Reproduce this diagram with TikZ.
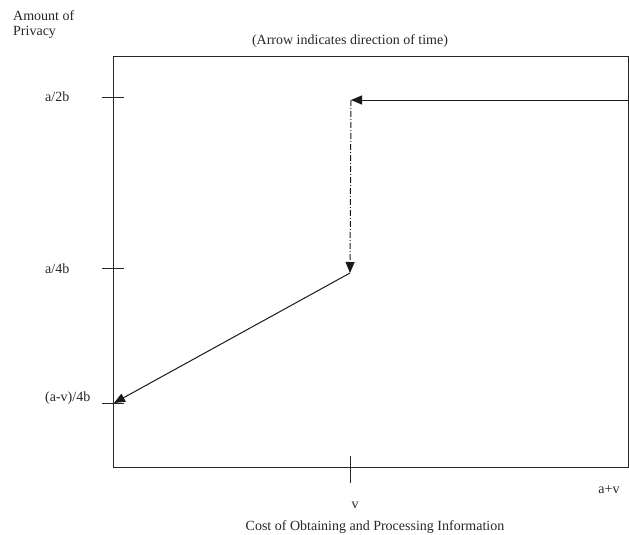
\documentclass[tikz,border=0pt]{standalone}
\usepackage{fontspec}
\setmainfont{Liberation Serif}
\usetikzlibrary{arrows.meta}
\begin{document}
\begin{tikzpicture}[x=1pt,y=-1pt,
  lbl/.style={font=\fontsize{14}{15}\selectfont, inner sep=0pt, text=black!85},
  ax/.style={line width=1pt, draw=black!85},
  path/.style={line width=1pt, draw=black!90, -{Triangle[length=11pt,width=9pt]}},
  dashdot/.style={line width=1pt, draw=black!90, dash pattern=on 6pt off 2pt on 1pt off 2pt, -{Triangle[length=11pt,width=9pt]}}]
\useasboundingbox (0,0) rectangle (629,535);
% box
\draw[ax] (113,57) rectangle (628,467);
% ticks
\draw[ax] (102,97) -- (124,97);
\draw[ax] (102,268) -- (124,268);
\draw[ax] (102,403) -- (124,403);
\draw[ax] (350,456) -- (350,483);
% key points
\coordinate (start) at (628,100);
\coordinate (corner) at (351,100);
\coordinate (mid) at (350,273);
\coordinate (endp) at (114,403);
\draw[path] (start) -- (corner);
\draw[dashdot] (corner) -- (mid);
\draw[path] (mid) -- (endp);
% labels
\node[lbl, anchor=west, align=left] (ylab) at (13,25) {Amount of\\Privacy};
\node[lbl, anchor=west] (l1) at (45,97) {a/2b};
\node[lbl, anchor=west] (l2) at (45,269) {a/4b};
\node[lbl, anchor=west] (l3) at (45,398) {(a-v)/4b};
\node[lbl] (title) at (350,41) {(Arrow indicates direction of time)};
\node[lbl] (v) at (355,505) {v};
\node[lbl] (av) at (609,490) {a+v};
\node[lbl] (xlab) at (375,527) {Cost of Obtaining and Processing Information};
\end{tikzpicture}
\end{document}
